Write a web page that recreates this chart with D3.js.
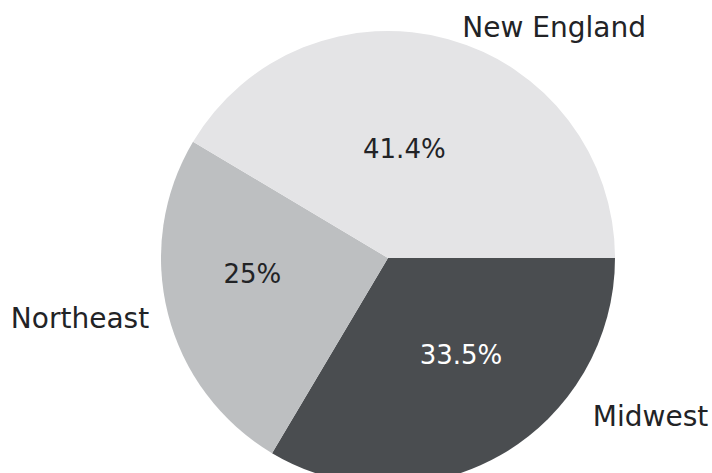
<!DOCTYPE html>
<html>
<head>
<meta charset="utf-8">
<script src="https://cdn.jsdelivr.net/npm/d3@7"></script>
<style>
  html, body { margin: 0; padding: 0; background: #ffffff; }
  svg { display: block; }
  text { font-family: "DejaVu Sans", Lato, sans-serif; }
</style>
</head>
<body>
<svg id="chart" width="712" height="473"></svg>
<script>
// Regional shares (percent)
const regions = ["Midwest", "Northeast", "New England"];
const shares = [33.5, 25, 41.4];
const shareLabels = ["33.5%", "25%", "41.4%"];
const sliceColors = ["#4a4d50", "#bdbfc1", "#e4e4e6"];
const valueTextColors = ["#ffffff", "#222326", "#222326"];

const width = 712, height = 473;
const cx = 388, cy = 258, radius = 227;

const svg = d3.select("#chart");
const g = svg.append("g").attr("transform", `translate(${cx},${cy})`);

const data = regions.map((r, i) => ({ region: r, value: shares[i], label: shareLabels[i], color: sliceColors[i], textColor: valueTextColors[i] }));

// Slices start at 3 o'clock and run clockwise
const pie = d3.pie().value(d => d.value).sort(null)
  .startAngle(Math.PI / 2).endAngle(Math.PI / 2 + 2 * Math.PI);
const arcs = pie(data);

const arc = d3.arc().innerRadius(0).outerRadius(radius);

g.selectAll("path.slice")
  .data(arcs)
  .enter().append("path")
  .attr("class", "slice")
  .attr("d", arc)
  .attr("fill", d => d.data.color);

// Baseline anchor of the value text: offset from the slice mid-angle (degrees) and distance from centre
const valuePlacement = {
  "Midwest": { dAngle: -4.8, r: 129 },
  "Northeast": { dAngle: 3.7, r: 138 },
  "New England": { dAngle: -6.1, r: 101 }
};
// Baseline anchor of the region names outside the pie (angle clockwise from 12 o'clock, distance)
const namePlacement = {
  "Midwest": { angle: 122.6, r: 311.6 },
  "Northeast": { angle: 257.25, r: 315.8 },
  "New England": { angle: 36.9, r: 276.6 }
};

function polar(angleRad, r) {
  return [Math.sin(angleRad) * r, -Math.cos(angleRad) * r];
}

g.selectAll("text.value")
  .data(arcs)
  .enter().append("text")
  .attr("class", "value")
  .attr("transform", d => {
    const p = valuePlacement[d.data.region];
    const mid = (d.startAngle + d.endAngle) / 2 + p.dAngle * Math.PI / 180;
    const [x, y] = polar(mid, p.r);
    return `translate(${x},${y})`;
  })
  .attr("text-anchor", "middle")
  .attr("font-size", 26)
  .attr("fill", d => d.data.textColor)
  .text(d => d.data.label);

g.selectAll("text.name")
  .data(arcs)
  .enter().append("text")
  .attr("class", "name")
  .attr("transform", d => {
    const p = namePlacement[d.data.region];
    const [x, y] = polar(p.angle * Math.PI / 180, p.r);
    return `translate(${x},${y})`;
  })
  .attr("text-anchor", "middle")
  .attr("font-size", 28)
  .attr("fill", "#222326")
  .text(d => d.data.region);
</script>
</body>
</html>
